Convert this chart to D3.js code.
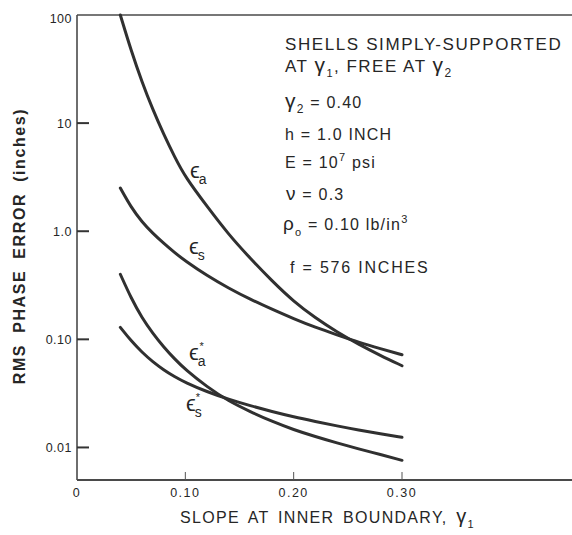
<!DOCTYPE html>
<meta charset="utf-8">
<script src="https://d3js.org/d3.v7.min.js"></script>
<style>
  body { margin: 0; background: #fff; }
  text { font-family: "Liberation Sans", Arial, sans-serif; fill: #262626; }
</style>
<div id="my_dataviz"></div>
<script>
// data
var slope = [0.04, 0.05, 0.06, 0.07, 0.08, 0.09, 0.10, 0.12, 0.14, 0.16, 0.18, 0.20, 0.22, 0.24, 0.26, 0.28, 0.30];
var epsA     = [100, 46.8, 24, 13.3, 7.9, 4.9, 3.16, 1.7, 0.93, 0.56, 0.347, 0.224, 0.158, 0.117, 0.090, 0.071, 0.057];
var epsS     = [2.51, 1.66, 1.216, 0.955, 0.773, 0.635, 0.531, 0.388, 0.297, 0.234, 0.19, 0.155, 0.129, 0.11, 0.094, 0.082, 0.072];
var epsAstar = [0.40, 0.24, 0.158, 0.1135, 0.085, 0.066, 0.0525, 0.0363, 0.0268, 0.0214, 0.0174, 0.0146, 0.0126, 0.011, 0.0097, 0.0086, 0.0076];
var epsSstar = [0.129, 0.0966, 0.0759, 0.0619, 0.0522, 0.0452, 0.0399, 0.0327, 0.0279, 0.0243, 0.0215, 0.0192, 0.0174, 0.0158, 0.0145, 0.0134, 0.0124];

var yTicks = [10, 1, 0.1, 0.01];
var yTickLabels = ["100", "10", "1.0", "0.10", "0.01"];
var yLabelValues = [100, 10, 1, 0.1, 0.01];
var xTicks = [0.10, 0.20, 0.30];
var xTickLabels = ["0", "0.10", "0.20", "0.30"];
var xLabelValues = [0, 0.10, 0.20, 0.30];

var width = 572, height = 535;

var svg = d3.select("#my_dataviz")
  .append("svg")
    .attr("width", width)
    .attr("height", height);

var x = d3.scaleLinear()
    .domain([0, 0.30])
    .range([77, 402]);
var y = d3.scaleLog()
    .domain([0.005, 100])
    .range([480, 15]);

// frame: top, left and bottom lines (no right side in the scan)
var ink = "#4a4a4a";
svg.append("line").attr("x1", x(0)).attr("x2", width).attr("y1", y(100)).attr("y2", y(100))
    .attr("stroke", ink).attr("stroke-width", 1.6);
svg.append("line").attr("x1", x(0)).attr("x2", x(0)).attr("y1", y(100)).attr("y2", y(0.005))
    .attr("stroke", ink).attr("stroke-width", 1.6);
svg.append("line").attr("x1", x(0)).attr("x2", width).attr("y1", y(0.005)).attr("y2", y(0.005))
    .attr("stroke", ink).attr("stroke-width", 1.8);

// y ticks point inward
svg.selectAll(".ytick").data(yTicks).enter().append("line")
    .attr("x1", x(0)).attr("x2", x(0) + 12)
    .attr("y1", function(d) { return y(d); })
    .attr("y2", function(d) { return y(d); })
    .attr("stroke", "#333").attr("stroke-width", 2);
svg.selectAll(".ylab").data(yLabelValues).enter().append("text")
    .attr("x", 72)
    .attr("y", function(d, i) { return y(d) + (i == 0 ? 8 : 4.5); })
    .attr("text-anchor", "end")
    .attr("font-size", "12.5px")
    .attr("letter-spacing", "0.5px")
    .text(function(d, i) { return yTickLabels[i]; });

// x ticks
svg.selectAll(".xtick").data(xTicks).enter().append("line")
    .attr("x1", function(d) { return x(d); })
    .attr("x2", function(d) { return x(d); })
    .attr("y1", y(0.005)).attr("y2", y(0.005) - 8)
    .attr("stroke", "#555").attr("stroke-width", 1);
svg.selectAll(".xlab").data(xLabelValues).enter().append("text")
    .attr("x", function(d) { return x(d); })
    .attr("y", 497)
    .attr("text-anchor", "middle")
    .attr("font-size", "12.5px")
    .attr("letter-spacing", "1.5px")
    .text(function(d, i) { return xTickLabels[i]; });

// axis titles
var xt = svg.append("text")
    .attr("x", 180).attr("y", 523)
    .attr("font-size", "16px")
    .attr("letter-spacing", "1.3px")
    .attr("word-spacing", "3px");
xt.append("tspan").text("SLOPE AT INNER BOUNDARY, ");
xt.append("tspan").attr("font-size", "20px").text("γ");
xt.append("tspan").attr("font-size", "11px").attr("dy", 5).text("1");

svg.append("text")
    .attr("transform", "translate(25,246) rotate(-90)")
    .attr("text-anchor", "middle")
    .attr("font-size", "16px")
    .attr("font-weight", "bold")
    .attr("letter-spacing", "1.6px")
    .attr("word-spacing", "5px")
    .text("RMS PHASE ERROR (inches)");

// curves
var line = d3.line()
    .x(function(d) { return x(d[0]); })
    .y(function(d) { return y(d[1]); })
    .curve(d3.curveBasis);
[epsA, epsS, epsAstar, epsSstar].forEach(function(series) {
  svg.append("path")
    .datum(d3.zip(slope, series))
    .attr("d", line)
    .attr("fill", "none")
    .attr("stroke", "#303030")
    .attr("stroke-width", 3)
    .attr("stroke-linecap", "round");
});

// curve labels: epsilon, subscript and optional asterisk in one text
function curveLabel(px, py, sub, star) {
  var t = svg.append("text").attr("x", px).attr("y", py);
  t.append("tspan").attr("font-size", "22px").text("ϵ");
  t.append("tspan").attr("font-size", "14px").attr("dx", -1).attr("dy", 6).text(sub);
  if (star) t.append("tspan").attr("font-size", "11px").attr("dx", -6).attr("dy", -16).text("*");
}
curveLabel(190, 178, "a", false);
curveLabel(189, 254, "s", false);
curveLabel(189, 360, "a", true);
curveLabel(186, 411, "s", true);

// parameter block
var note = svg.append("g").attr("font-size", "16px").attr("letter-spacing", "1.2px");
note.append("text").attr("x", 285).attr("y", 50).attr("font-size", "17px").attr("letter-spacing", "1.6px")
    .text("SHELLS SIMPLY-SUPPORTED");
var l2 = note.append("text").attr("x", 285).attr("y", 72).attr("font-size", "17px").attr("letter-spacing", "1.5px");
l2.append("tspan").text("AT ");
l2.append("tspan").attr("font-size", "21px").text("γ");
l2.append("tspan").attr("font-size", "11px").attr("dy", 5).text("1");
l2.append("tspan").attr("dy", -5).text(", FREE AT ");
l2.append("tspan").attr("font-size", "21px").text("γ");
l2.append("tspan").attr("font-size", "12px").attr("dy", 5).text("2");

var l3 = note.append("text").attr("x", 285).attr("y", 108);
l3.append("tspan").attr("font-size", "21px").text("γ");
l3.append("tspan").attr("font-size", "12px").attr("dy", 5).text("2");
l3.append("tspan").attr("dy", -5).text(" = 0.40");

note.append("text").attr("x", 285).attr("y", 140).text("h = 1.0 INCH");

var l5 = note.append("text").attr("x", 285).attr("y", 168);
l5.append("tspan").text("E = 10");
l5.append("tspan").attr("font-size", "11px").attr("dy", -7).text("7");
l5.append("tspan").attr("dy", 7).text(" psi");

var l6 = note.append("text").attr("x", 286).attr("y", 200);
l6.append("tspan").attr("font-size", "19px").text("ν");
l6.append("tspan").text(" = 0.3");

var l7 = note.append("text").attr("x", 283).attr("y", 230);
l7.append("tspan").attr("font-size", "19px").text("ρ");
l7.append("tspan").attr("font-size", "11px").attr("dy", 6).text("o");
l7.append("tspan").attr("dy", -6).text(" = 0.10 lb/in");
l7.append("tspan").attr("font-size", "11px").attr("dy", -7).text("3");

note.append("text").attr("x", 290).attr("y", 273).attr("letter-spacing", "1.8px").text("f = 576 INCHES");
</script>
